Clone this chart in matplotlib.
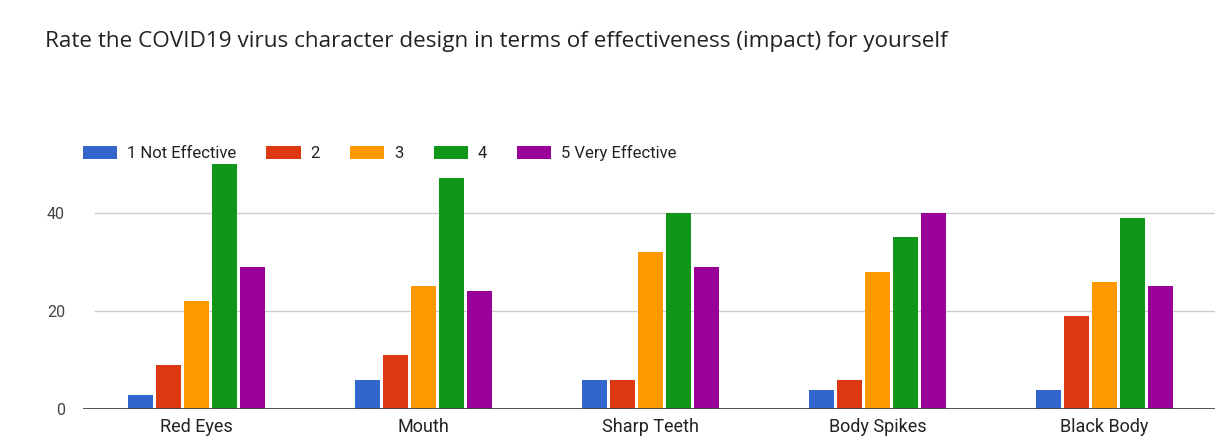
import numpy as np
import matplotlib.pyplot as plt
from matplotlib.patches import Patch

plt.rcParams['font.family'] = ['Roboto', 'DejaVu Sans']

title = 'Rate the COVID19 virus character design in terms of effectiveness (impact) for yourself'
categories = ['Red Eyes', 'Mouth', 'Sharp Teeth', 'Body Spikes', 'Black Body']
series_names = ['1 Not Effective', '2', '3', '4', '5 Very Effective']
not_effective = [3, 6, 6, 4, 4]
rating_2 = [9, 11, 6, 6, 19]
rating_3 = [22, 25, 32, 28, 26]
rating_4 = [50, 47, 40, 35, 39]
very_effective = [29, 24, 29, 40, 25]
yticks = [0, 20, 40]

colors = ['#3366cc', '#dc3912', '#ff9900', '#109618', '#990099']
series = [not_effective, rating_2, rating_3, rating_4, very_effective]

fig = plt.figure(figsize=(12.15, 4.41), dpi=100)
ax = fig.add_axes([83 / 1215, 1 - 409.3 / 441, 1135 / 1215, (409.3 - 163.6) / 441])

x = np.arange(len(categories))
pitch = 0.123
width = 0.113
for i, (vals, col) in enumerate(zip(series, colors)):
    ax.bar(x + (i - 2) * pitch, vals, width, color=col, zorder=3, clip_on=False)

ax.set_xlim(-0.5, len(categories) - 0.5)
ax.set_ylim(0, 50)
ax.set_yticks(yticks)
ax.set_yticklabels([str(t) for t in yticks], color='#444444', fontsize=11.5)
ax.set_xticks(x)
ax.set_xticklabels(categories, color='#222222', fontsize=13)
ax.tick_params(axis='both', length=0)
ax.tick_params(axis='y', pad=13)
ax.tick_params(axis='x', pad=6)

for t in yticks[1:]:
    ax.axhline(t, xmin=12 / 1135, xmax=1, color='#cccccc', lw=1, zorder=1)
ax.axhline(0, color='#444444', lw=1.3, zorder=4)

for s in ax.spines.values():
    s.set_visible(False)

handles = [Patch(facecolor=c, label=n) for c, n in zip(colors, series_names)]
fig.legend(handles=handles, loc='center left', ncol=5, frameon=False,
           bbox_to_anchor=(68 / 1215, 1 - 153 / 441), fontsize=12,
           handlelength=2.05, handleheight=0.8, handletextpad=0.6,
           columnspacing=1.8, labelcolor='#222222')

fig.text(45 / 1215, 1 - 42 / 441, title, fontsize=16.2, color='#222222', va='center',
         family=['Open Sans', 'DejaVu Sans'])

fig.savefig('out.png', dpi=100, facecolor='white')
